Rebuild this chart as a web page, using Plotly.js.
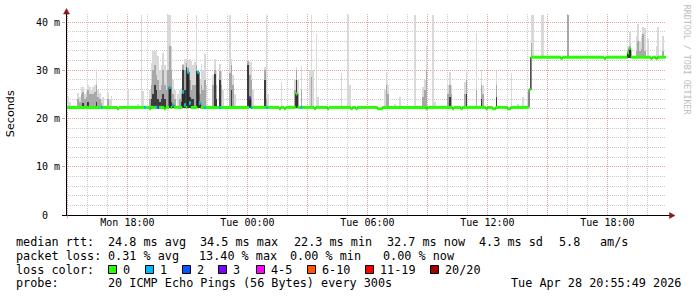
<!DOCTYPE html>
<html><head><meta charset="utf-8">
<script src="https://cdn.plot.ly/plotly-3.0.1.min.js"></script>
<style>html,body{margin:0;padding:0;background:#fff;}#chart{width:697px;height:297px;}</style>
</head><body><div id="chart"></div>
<script>
// ---------------- data ----------------
const rangeStart = '27 14:55:49';
const rangeEnd   = '28 20:55:49';
const xTickTimes  = ['27 15:00','27 18:00','27 21:00','28 00:00','28 03:00','28 06:00','28 09:00','28 12:00','28 15:00','28 18:00'];
const xTickLabels = ['', 'Mon 18:00', '', 'Tue 00:00', '', 'Tue 06:00', '', 'Tue 12:00', '', 'Tue 18:00'];
const yTickVals   = [0, 10, 20, 30, 40];
const yTickLabels = ['0\u00a0\u00a0', '10 m', '20 m', '30 m', '40 m'];

// median rtt (ms), change points
const medTime = ['27 14:55','27 17:30','27 17:35','27 19:05','27 19:10','27 19:50','27 19:55','27 20:05','27 20:10','27 20:15',
  '27 20:20','27 20:45','27 20:50','27 20:55','27 21:00','27 21:05','27 21:10','27 21:30','27 21:35','27 21:40',
  '28 00:05','28 00:10','28 01:35','28 01:40','28 01:50','28 01:55','28 02:25','28 02:30','28 03:20','28 03:25',
  '28 04:00','28 04:05','28 05:10','28 05:15','28 05:25','28 05:30','28 06:30','28 06:45','28 08:55','28 09:00',
  '28 10:15','28 10:20','28 10:40','28 10:45','28 11:55','28 12:00','28 12:15','28 12:25','28 13:00','28 13:10',
  '28 14:05','28 14:10','28 15:40','28 15:45','28 17:50','28 17:55','28 19:00','28 19:05','28 19:10','28 20:10',
  '28 20:15','28 20:25','28 20:30'];
const medVal = [22.3,22.0,22.3,22.0,22.3,22.0,22.3,26.5,22.3,22.8,
  22.3,25.5,22.8,22.3,29.6,23.2,22.3,29.6,23.2,22.3,
  24.3,22.3,22.0,22.3,22.0,22.3,25.1,22.3,22.0,22.3,
  22.0,22.3,22.0,22.3,22.0,22.3,22.0,22.3,22.0,22.3,
  22.0,22.3,22.0,22.3,22.0,22.3,22.0,22.3,22.0,22.3,
  26.0,32.7,32.4,32.7,32.4,32.7,33.6,34.5,32.7,32.4,
  32.7,32.4,32.7];
const medEnd = '28 20:50';

// smoke (ms): max ping, middle band top, dark core top
const smokeTime = [
  '27 15:00','27 15:05','27 15:30','27 15:35','27 15:40','27 15:45','27 15:50','27 15:55','27 16:00','27 16:05',
  '27 16:10','27 16:15','27 16:20','27 16:25','27 16:30','27 16:35','27 16:40','27 16:45','27 17:00','27 17:05',
  '27 17:10','27 18:00','27 18:30','27 18:40','27 18:45','27 19:05','27 19:10','27 19:15','27 19:20','27 19:25',
  '27 19:30','27 19:35','27 19:40','27 19:45','27 19:50','27 19:55','27 20:00','27 20:05','27 20:10','27 20:15',
  '27 20:20','27 20:30','27 20:35','27 20:40','27 20:45','27 20:50','27 20:55','27 21:00','27 21:05','27 21:10',
  '27 21:15','27 21:20','27 21:25','27 21:30','27 21:35','27 21:40','27 21:45','27 21:50','27 21:55','27 22:15',
  '27 22:20','27 22:25','27 22:35','27 22:40','27 22:45','27 23:05','27 23:10','27 23:15','27 23:20','28 00:00',
  '28 00:05','28 00:10','28 00:15','28 00:50','28 00:55','28 01:00','28 01:40','28 02:20','28 02:25','28 02:30',
  '28 02:40','28 03:05','28 03:10','28 03:15','28 03:25','28 03:30','28 04:40','28 05:00','28 05:05','28 06:50',
  '28 06:55','28 07:00','28 07:20','28 07:35','28 08:20','28 08:45','28 08:50','28 08:55','28 09:15','28 09:20',
  '28 10:00','28 10:05','28 10:10','28 10:50','28 10:55','28 11:25','28 11:40','28 11:45','28 12:25','28 13:10',
  '28 13:30','28 13:45','28 14:00','28 14:10','28 14:15','28 14:40','28 14:45','28 16:00','28 19:00','28 19:05',
  '28 19:10','28 19:25','28 19:30','28 19:35','28 19:40','28 19:45','28 19:50','28 20:00','28 20:25','28 20:30',
  '28 20:45'];
const smokeMax = [
  24.4,23.5,25.3,24.5,26.5,26.5,25.0,25.6,26.9,26.5,
  26.0,26.5,27.0,30.3,26.0,25.3,24.0,24.4,25.3,24.0,
  24.6,26.0,23.0,41.5,25.6,26.0,31.5,33.9,33.9,33.9,
  33.0,30.0,31.0,33.6,31.0,30.0,41.5,41.5,35.0,28.0,
  26.0,25.0,26.0,26.3,31.3,32.4,32.4,32.0,32.4,32.0,
  31.0,31.8,41.5,30.0,28.0,31.3,30.0,33.4,27.0,29.0,
  32.3,30.0,31.3,29.8,26.0,41.5,32.3,29.0,25.0,32.1,
  31.7,31.7,26.0,30.6,41.5,25.0,27.6,28.0,30.6,28.0,
  30.9,30.0,41.5,30.0,37.6,24.5,29.5,41.5,26.9,26.0,
  29.7,27.0,23.0,24.5,41.5,26.5,28.0,35.0,41.5,23.5,
  27.0,29.7,27.0,27.5,30.0,37.8,30.1,27.0,29.8,29.4,
  23.0,24.5,25.3,41.5,41.5,41.5,41.5,41.5,35.0,37.9,
  34.0,37.0,39.6,36.0,37.0,38.9,38.7,36.4,35.0,39.0,
  37.0];
const smokeMid = [
  null,null,24.0,23.5,25.0,25.5,24.0,24.5,26.0,25.0,
  25.0,25.0,25.5,27.0,24.5,24.0,23.2,null,24.0,null,
  null,null,null,null,null,24.0,27.0,30.0,31.0,29.0,
  28.0,26.0,27.0,30.0,27.0,26.0,30.0,35.0,30.0,25.0,
  24.0,null,24.0,25.0,31.0,30.0,31.5,30.5,28.0,26.0,
  27.0,27.0,31.0,29.8,25.0,27.0,26.0,28.0,null,27.0,
  30.0,27.0,29.8,27.0,null,29.5,31.0,27.0,null,32.0,
  29.0,28.0,null,30.0,24.0,null,null,26.0,30.0,25.0,
  26.0,null,28.7,null,null,null,null,null,null,null,
  27.0,25.0,null,null,null,24.5,26.0,30.0,null,null,
  25.0,27.0,25.0,25.0,28.0,26.0,27.0,25.0,27.0,null,
  null,null,null,35.6,null,null,null,41.5,34.0,35.0,
  null,34.0,36.0,34.0,34.5,37.5,34.0,null,null,null,
  34.0];
const smokeDark = [
  null,null,null,null,null,23.2,null,null,23.5,null,
  null,null,null,23.5,null,null,null,null,null,null,
  null,null,null,null,null,null,24.0,25.0,27.0,26.0,
  24.0,23.5,24.0,25.0,24.0,null,null,26.5,23.5,23.0,
  null,null,null,23.5,30.0,26.0,30.6,29.6,24.5,24.0,
  24.0,null,29.8,29.6,23.5,null,null,null,null,null,
  29.2,24.0,28.0,null,null,null,26.0,null,null,31.0,
  24.3,null,null,28.0,null,null,null,null,28.0,null,
  null,null,null,null,null,null,null,null,null,null,
  null,null,null,null,null,null,null,null,null,null,
  null,24.5,null,null,25.0,null,24.0,null,24.5,null,
  null,null,null,null,null,null,null,null,33.6,34.5,
  null,null,null,null,null,null,null,null,null,null,
  null];

// intervals with packet loss: time, median, loss class index
const lossTime  = ['27 16:40','27 18:50','27 19:25','27 19:30','27 20:05','27 20:15','27 20:45','27 20:50','27 21:00','27 21:05',
  '27 21:30','27 21:35','27 21:50','27 22:35','28 00:05','28 00:10','28 00:55','28 02:40'];
const lossVal   = [22.3,22.3,22.3,22.3,26.5,22.8,25.5,22.8,29.6,23.2,29.6,23.2,22.3,22.3,24.3,22.3,22.3,22.3];
const lossClass = [1,1,1,3,1,1,1,1,1,1,1,1,1,1,3,1,1,1];

const lossLabels = ['0','1','2','3','4-5','6-10','11-19','20/20'];
const lossColors = ['#26ff00','#00b8ff','#0059ff','#7e00ff','#ff00ff','#ff5500','#ff0000','#a10000'];

const rttLabel = 'median rtt:';
const rttStats = ['24.8 ms avg','34.5 ms max','22.3 ms min','32.7 ms now','4.3 ms sd','5.8','am/s'];
const lossLabel = 'packet loss:';
const lossStats = ['0.31 % avg','13.40 % max','0.00 % min','0.00 % now'];
const probeLabel = 'probe:';
const probeText = '20 ICMP Echo Pings (56 Bytes) every 300s';
const stampText = 'Tue Apr 28 20:55:49 2026';

// ---------------- helpers ----------------
const STEP = 300000;
function ms(s){ const p = s.split(' '); const hm = p[1].split(':');
  return Date.UTC(2026, 3, +p[0], +hm[0], +hm[1], +(hm[2]||0)); }
function iso(t){ return new Date(t).toISOString().slice(0,19).replace('T',' '); }
const medMs = medTime.map(ms);
function medAt(t){ let v = medVal[0]; for(let i=0;i<medMs.length;i++){ if(medMs[i] <= t) v = medVal[i]; } return v; }
function baseAt(t){ return Math.min(medAt(t-STEP), medAt(t), medAt(t+STEP)) - 0.1; }

const traces = [];
function smokeTrace(vals, color){
  const xs=[], ys=[], bs=[];
  smokeTime.forEach((s,i)=>{ if(vals[i]==null) return; const t=ms(s); const b=baseAt(t);
    xs.push(iso(t)); bs.push(b); ys.push(Math.max(vals[i]-b,0)); });
  return {type:'bar', x:xs, y:ys, base:bs, width:STEP, offset:0,
    marker:{color:color, line:{width:0}}, hoverinfo:'skip'};
}
traces.push(smokeTrace(smokeMax, '#d9d9d9'));
traces.push(smokeTrace(smokeMid, '#a8a8a8'));
traces.push(smokeTrace(smokeDark, '#3c3c3c'));

// thin dark median line
const endMs = ms(medEnd);
traces.push({type:'scatter', mode:'lines', x: medTime.map(s=>iso(ms(s))).concat([iso(endMs+STEP)]),
  y: medVal.concat([medVal[medVal.length-1]]), line:{color:'#202020', width:1, shape:'hv'}, hoverinfo:'skip'});
// green (no loss) median segments
(function(){ const xs=[], ys=[];
  for(let i=0;i<medMs.length;i++){ const a=medMs[i], b=(i+1<medMs.length)?medMs[i+1]:endMs+STEP;
    xs.push(iso(a), iso(b), null); ys.push(medVal[i], medVal[i], null); }
  traces.push({type:'scatter', mode:'lines', x:xs, y:ys, line:{color:lossColors[0], width:3}, hoverinfo:'skip'});
})();
// loss-coloured median segments
[...new Set(lossClass)].forEach(c=>{ const xs=[], ys=[];
  lossTime.forEach((s,i)=>{ if(lossClass[i]!==c) return; const t=ms(s);
    xs.push(iso(t), iso(t+STEP), null); ys.push(lossVal[i], lossVal[i], null); });
  traces.push({type:'scatter', mode:'lines', x:xs, y:ys, line:{color:lossColors[c], width:3}, hoverinfo:'skip'});
});

// ---------------- layout ----------------
const L=66, W=600, T=14, B=215, H=B-T;
const px = x => (x-L)/W, py = y => (B-y)/H;
const MONO = 'DejaVu Sans Mono';
const FS = 11.8;
function ann(text, x, y, extra){ return Object.assign({xref:'paper', yref:'paper', x:px(x), y:py(y),
  xanchor:'left', yanchor:'middle', showarrow:false, borderpad:0, text:text,
  font:{family:MONO, size:FS, color:'#000'}}, extra||{}); }

const annotations = [];
const row1 = 242, row2 = 255.5, row3 = 269.5, row4 = 283;
annotations.push(ann(rttLabel, 15.3, row1));
[106.5,199.3,292.6,386,477.6,557.6,599.3].forEach((x,i)=>annotations.push(ann(rttStats[i], x, row1)));
annotations.push(ann(lossLabel, 15.3, row2));
[106.5,197.5,288.5,381.5].forEach((x,i)=>annotations.push(ann(lossStats[i], x, row2)));
annotations.push(ann('loss color:', 15.3, row3));
const sqX = [108,145,182,218,256,307,365,430];
const shapes = [];
sqX.forEach((x,i)=>{
  shapes.push({type:'rect', xref:'paper', yref:'paper', x0:px(x+0.5), x1:px(x+8.5), y0:py(265.5), y1:py(273.5),
    fillcolor:lossColors[i], line:{color:'#000', width:1}});
  annotations.push(ann(lossLabels[i], x+14, row3));
});
annotations.push(ann(probeLabel, 15.3, row4));
annotations.push(ann(probeText, 106.5, row4));
annotations.push(ann(stampText, 682, row4, {xanchor:'right'}));
annotations.push(ann('Seconds', 10.5, 113.7, {xanchor:'center', textangle:-90,
  font:{family:'DejaVu Sans', size:11.2, color:'#000'}}));
annotations.push(ann('RRDTOOL / TOBI OETIKER', 687.3, 60, {xanchor:'center', textangle:90,
  font:{family:MONO, size:8.3, color:'#bdbdbd'}}));

// axis lines and arrows
const AX = '#000', AR = '#8b1a1a';
shapes.push({type:'path', xref:'paper', yref:'paper', path:`M${px(62)},${py(215.5)} L${px(670)},${py(215.5)}`, line:{color:AX, width:1}});
shapes.push({type:'path', xref:'paper', yref:'paper', path:`M${px(66.5)},${py(215.5)} L${px(66.5)},${py(12)}`, line:{color:AX, width:1}});
shapes.push({type:'path', xref:'paper', yref:'paper', path:`M${px(66.5)},${py(8.5)} L${px(63.5)},${py(14)} L${px(69.5)},${py(14)} Z`, fillcolor:AR, line:{color:AR, width:0.5}});
shapes.push({type:'path', xref:'paper', yref:'paper', path:`M${px(675)},${py(215.5)} L${px(669.5)},${py(212.5)} L${px(669.5)},${py(218.5)} Z`, fillcolor:AR, line:{color:AR, width:0.5}});
shapes.push({type:'path', xref:'paper', yref:'paper', path:`M${px(67.5)},${py(215.5)} L${px(67.5)},${py(218.5)}`, line:{color:'#e3a3a3', width:1}});

const MG = '#e3a3a3', mg = '#cccccc', DASH = '1px,1px';
const full = s => iso(ms(s));
const layout = {
  width:697, height:297,
  margin:{l:L, r:697-L-W, t:T, b:297-B, pad:0},
  paper_bgcolor:'#ffffff', plot_bgcolor:'#ffffff',
  showlegend:false, barmode:'overlay', bargap:0,
  font:{family:MONO, size:10, color:'#000'},
  xaxis:{type:'date', range:[full(rangeStart), full(rangeEnd)], tickmode:'array',
    tickvals:xTickTimes.map(full), ticktext:xTickLabels,
    showgrid:true, gridcolor:MG, griddash:DASH, gridwidth:1,
    ticks:'', showline:false, zeroline:false,
    tickfont:{family:MONO, size:10, color:'#000'},
    minor:{dtick:3600000, tick0:full('27 15:00'), showgrid:true, gridcolor:mg, griddash:DASH, ticks:''},
    fixedrange:true},
  yaxis:{range:[0, H/4.825], tickmode:'array', tickvals:yTickVals, ticktext:yTickLabels,
    showgrid:true, gridcolor:MG, griddash:DASH, gridwidth:1,
    ticks:'outside', ticklen:3, tickcolor:MG, showline:false, zeroline:false,
    tickfont:{family:MONO, size:10, color:'#000'},
    minor:{dtick:2, showgrid:true, gridcolor:mg, griddash:DASH, ticks:''},
    fixedrange:true},
  shapes:shapes, annotations:annotations
};
Plotly.newPlot('chart', traces, layout, {staticPlot:true, displayModeBar:false});
</script></body></html>
